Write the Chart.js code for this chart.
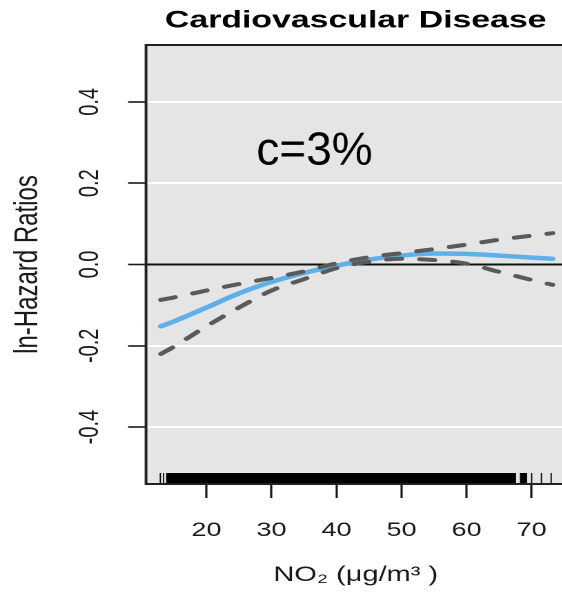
<!DOCTYPE html>
<html>
<head>
<meta charset="utf-8">
<title>Cardiovascular Disease</title>
<script src="https://cdn.jsdelivr.net/npm/chart.js@4.4.1/dist/chart.umd.min.js"></script>
<style>
  html, body { margin: 0; padding: 0; background: #ffffff; overflow: hidden; }
  #frame { position: relative; width: 562px; height: 593px; overflow: hidden; }
  /* the figure is drawn at its natural proportions, then widened */
  #stretch { position: absolute; left: 0; top: 0; width: 412px; height: 593px;
             transform: scaleX(1.38); transform-origin: 0 0; }
</style>
</head>
<body>
<div id="frame"><div id="stretch"><canvas id="chart"></canvas></div></div>
<script>
// NO2 exposure grid (µg/m³) where the spline estimate is tabulated
const no2 = [13, 15, 20, 25, 30, 35, 40, 45, 50, 55, 60, 65, 70, 73.2];
// fitted ln-hazard ratio
const fitted = [-0.152, -0.140, -0.106, -0.071, -0.043, -0.021, -0.003, 0.012, 0.022, 0.027, 0.026, 0.022, 0.017, 0.014];
// 95% confidence band
const upper = [-0.087, -0.081, -0.064, -0.048, -0.033, -0.017, 0.003, 0.018, 0.028, 0.038, 0.049, 0.061, 0.071, 0.077];
const lower = [-0.220, -0.202, -0.152, -0.106, -0.064, -0.036, -0.009, 0.007, 0.014, 0.011, 0.002, -0.018, -0.038, -0.050];

// rug of observed exposures: single marks and densely covered stretches
const rugTicks = [12.9, 13.4, 70.0, 71.5, 73.0];
const rugRanges = [[13.8, 67.6], [68.2, 69.3]];

// axis ticks
const xTicks = [20, 30, 40, 50, 60, 70];
const yTicks = [-0.4, -0.2, 0.0, 0.2, 0.4];

// in-panel note
const noteText = 'c=3%';
const notePos = { x: 36.6, y: 0.246 };

const STRETCH = 1.38;
const FONT = '"Liberation Sans", Arial, Helvetica, sans-serif';
const INK = '#1a1a1a';

const pts = ys => no2.map((x, i) => ({ x: x, y: ys[i] }));

const panelPlugin = {
  id: 'panel',
  beforeDraw(chart) {
    const { ctx, chartArea: a } = chart;
    ctx.save();
    ctx.fillStyle = '#e5e5e5';
    ctx.fillRect(a.left, a.top, a.right - a.left, a.bottom - a.top);
    ctx.restore();
  },
  afterDatasetsDraw(chart) {
    const { ctx, chartArea: a, scales } = chart;
    const sx = scales.x;
    ctx.save();
    // rug along the bottom edge
    const rugLen = 11;
    ctx.fillStyle = '#000';
    rugRanges.forEach(([from, to]) => {
      const p0 = sx.getPixelForValue(from), p1 = sx.getPixelForValue(to);
      ctx.fillRect(p0, a.bottom - rugLen, p1 - p0, rugLen);
    });
    ctx.strokeStyle = '#000';
    ctx.lineWidth = 0.9;
    rugTicks.forEach(v => {
      const p = sx.getPixelForValue(v);
      ctx.beginPath();
      ctx.moveTo(p, a.bottom);
      ctx.lineTo(p, a.bottom - rugLen);
      ctx.stroke();
    });
    // box around the panel
    ctx.strokeStyle = '#222';
    ctx.lineWidth = 2;
    ctx.strokeRect(a.left, a.top, a.right - a.left, a.bottom - a.top);
    // note, drawn with undistorted proportions
    const nx = sx.getPixelForValue(notePos.x);
    const ny = scales.y.getPixelForValue(notePos.y);
    ctx.translate(nx, ny);
    ctx.scale(1 / STRETCH, 1);
    ctx.fillStyle = '#000';
    ctx.font = '46px ' + FONT;
    ctx.textAlign = 'center';
    ctx.textBaseline = 'alphabetic';
    ctx.fillText(noteText, 0, 0);
    ctx.restore();
  }
};

new Chart(document.getElementById('chart'), {
  type: 'line',
  data: {
    datasets: [
      { label: 'upper 95% CI', data: pts(upper), borderColor: '#5a5a5a', borderWidth: 4,
        borderDash: [10.5, 13.5], borderCapStyle: 'round', pointRadius: 0,
        cubicInterpolationMode: 'monotone', fill: false },
      { label: 'lower 95% CI', data: pts(lower), borderColor: '#5a5a5a', borderWidth: 4,
        borderDash: [10.5, 13.5], borderCapStyle: 'round', pointRadius: 0,
        cubicInterpolationMode: 'monotone', fill: false },
      { label: 'ln-HR', data: pts(fitted), borderColor: '#5fb0e8', borderWidth: 4.5,
        borderCapStyle: 'round', pointRadius: 0,
        cubicInterpolationMode: 'monotone', fill: false }
    ]
  },
  options: {
    responsive: true,
    maintainAspectRatio: false,
    animation: false,
    devicePixelRatio: 2,
    layout: { padding: 0 },
    plugins: {
      legend: { display: false },
      tooltip: { enabled: false },
      title: {
        display: true,
        fullSize: false,
        text: 'Cardiovascular Disease',
        color: '#000',
        font: { family: FONT, size: 24.5, weight: 'bold', lineHeight: 1.2 },
        padding: { top: 6, bottom: 9.6 }
      }
    },
    scales: {
      x: {
        type: 'linear',
        min: 10.7,
        max: 75.2,
        afterBuildTicks: s => { s.ticks = xTicks.map(v => ({ value: v })); },
        afterFit: s => { s.height = 109; s.paddingLeft = 0; s.paddingRight = 0; },
        grid: { drawOnChartArea: false, drawTicks: true, tickLength: 14, tickColor: INK, tickWidth: 1.6 },
        border: { display: false },
        ticks: { padding: 21, color: INK, autoSkip: false, maxRotation: 0,
                 font: { family: FONT, size: 19.5 }, callback: v => String(v) },
        title: { display: true, text: 'NO₂ (μg/m³ )', color: INK,
                 font: { family: FONT, size: 21, lineHeight: 1.2 }, padding: { top: 0, bottom: 5 } }
      },
      y: {
        type: 'linear',
        min: -0.54,
        max: 0.54,
        afterBuildTicks: s => { s.ticks = yTicks.map(v => ({ value: v })); },
        afterFit: s => { s.width = 105.8; s.paddingTop = 0; s.paddingBottom = 0; },
        grid: {
          color: c => (c.tick && c.tick.value === 0) ? '#111111' : '#ffffff',
          lineWidth: 2,
          drawTicks: true, tickLength: 13, tickColor: INK, tickWidth: 1.6
        },
        border: { display: false },
        ticks: { minRotation: 90, maxRotation: 90, crossAlign: 'center', padding: 10, color: INK,
                 font: { family: FONT, size: 20 }, callback: v => v.toFixed(1) },
        title: { display: true, text: 'ln-Hazard Ratios', color: INK,
                 font: { family: FONT, size: 24, lineHeight: 1.2 }, padding: { top: 6, bottom: 0 } }
      }
    }
  },
  plugins: [panelPlugin]
});
</script>
</body>
</html>
